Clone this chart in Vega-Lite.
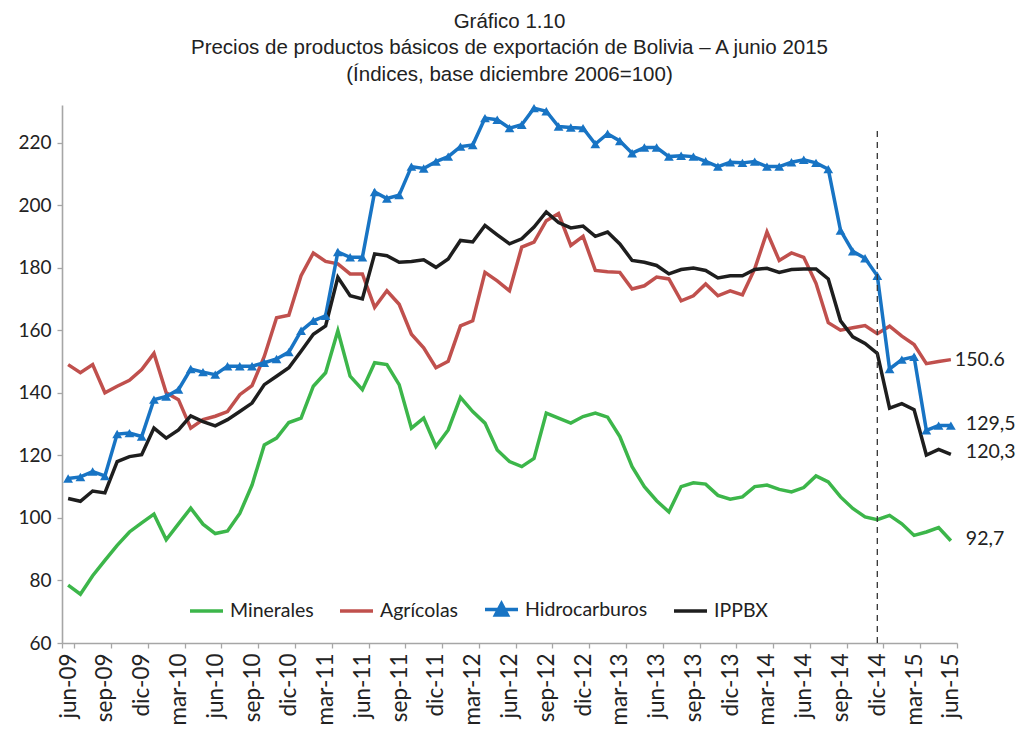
{
  "$schema": "https://vega.github.io/schema/vega-lite/v6.json",
  "width": 895,
  "height": 538,
  "autosize": "none",
  "padding": {"left": 62, "top": 105, "right": 62, "bottom": 91},
  "background": "white",
  "config": {"view": {"stroke": null}},
  "title": {
    "text": ["Gráfico 1.10", "Precios de productos básicos de exportación de Bolivia – A junio 2015", "(Índices, base diciembre 2006=100)"],
    "font": "Liberation Sans", "fontSize": 20.5, "fontWeight": "normal", "color": "#222222",
    "lineHeight": 26.5, "anchor": "middle", "frame": "group", "offset": 16
  },
  "data": {"values": [
    {"mes": "jun-09", "Minerales": 78.5, "Agrícolas": 149, "Hidrocarburos": 112.6, "IPPBX": 106.2},
    {"mes": "jul-09", "Minerales": 75.6, "Agrícolas": 146.4, "Hidrocarburos": 113.1, "IPPBX": 105.3},
    {"mes": "ago-09", "Minerales": 81.5, "Agrícolas": 149, "Hidrocarburos": 114.8, "IPPBX": 108.6},
    {"mes": "sep-09", "Minerales": 86.4, "Agrícolas": 140, "Hidrocarburos": 113.4, "IPPBX": 108},
    {"mes": "oct-09", "Minerales": 91.2, "Agrícolas": 142.1, "Hidrocarburos": 126.8, "IPPBX": 118},
    {"mes": "nov-09", "Minerales": 95.5, "Agrícolas": 144, "Hidrocarburos": 127.1, "IPPBX": 119.6},
    {"mes": "dic-09", "Minerales": 98.4, "Agrícolas": 147.4, "Hidrocarburos": 126, "IPPBX": 120.2},
    {"mes": "ene-10", "Minerales": 101.2, "Agrícolas": 152.6, "Hidrocarburos": 137.8, "IPPBX": 128.7},
    {"mes": "feb-10", "Minerales": 93, "Agrícolas": 140, "Hidrocarburos": 138.8, "IPPBX": 125.5},
    {"mes": "mar-10", "Minerales": 98.1, "Agrícolas": 137.8, "Hidrocarburos": 141, "IPPBX": 128.1},
    {"mes": "abr-10", "Minerales": 103.1, "Agrícolas": 128.7, "Hidrocarburos": 147.6, "IPPBX": 132.6},
    {"mes": "may-10", "Minerales": 98, "Agrícolas": 131.4, "Hidrocarburos": 146.6, "IPPBX": 130.8},
    {"mes": "jun-10", "Minerales": 95, "Agrícolas": 132.5, "Hidrocarburos": 145.8, "IPPBX": 129.4},
    {"mes": "jul-10", "Minerales": 95.8, "Agrícolas": 134, "Hidrocarburos": 148.5, "IPPBX": 131.4},
    {"mes": "ago-10", "Minerales": 101.4, "Agrícolas": 139.4, "Hidrocarburos": 148.5, "IPPBX": 134},
    {"mes": "sep-10", "Minerales": 110.5, "Agrícolas": 142.3, "Hidrocarburos": 148.5, "IPPBX": 136.7},
    {"mes": "oct-10", "Minerales": 123.3, "Agrícolas": 151.6, "Hidrocarburos": 149.6, "IPPBX": 142.6},
    {"mes": "nov-10", "Minerales": 125.5, "Agrícolas": 164, "Hidrocarburos": 150.8, "IPPBX": 145.3},
    {"mes": "dic-10", "Minerales": 130.5, "Agrícolas": 164.8, "Hidrocarburos": 153, "IPPBX": 148},
    {"mes": "ene-11", "Minerales": 131.9, "Agrícolas": 177.4, "Hidrocarburos": 159.8, "IPPBX": 153.3},
    {"mes": "feb-11", "Minerales": 142.1, "Agrícolas": 184.7, "Hidrocarburos": 163, "IPPBX": 158.7},
    {"mes": "mar-11", "Minerales": 146.4, "Agrícolas": 182, "Hidrocarburos": 164.6, "IPPBX": 161.4},
    {"mes": "abr-11", "Minerales": 159.8, "Agrícolas": 181.2, "Hidrocarburos": 185, "IPPBX": 176.9},
    {"mes": "may-11", "Minerales": 145.3, "Agrícolas": 178, "Hidrocarburos": 183.3, "IPPBX": 171},
    {"mes": "jun-11", "Minerales": 141, "Agrícolas": 178, "Hidrocarburos": 183.3, "IPPBX": 170},
    {"mes": "jul-11", "Minerales": 149.6, "Agrícolas": 167.3, "Hidrocarburos": 204.2, "IPPBX": 184.4},
    {"mes": "ago-11", "Minerales": 149, "Agrícolas": 172.6, "Hidrocarburos": 202.1, "IPPBX": 183.8},
    {"mes": "sep-11", "Minerales": 142.6, "Agrícolas": 168.3, "Hidrocarburos": 203.2, "IPPBX": 181.7},
    {"mes": "oct-11", "Minerales": 128.7, "Agrícolas": 158.7, "Hidrocarburos": 212.3, "IPPBX": 182},
    {"mes": "nov-11", "Minerales": 131.9, "Agrícolas": 154.4, "Hidrocarburos": 211.7, "IPPBX": 182.5},
    {"mes": "dic-11", "Minerales": 122.8, "Agrícolas": 148, "Hidrocarburos": 213.9, "IPPBX": 180.1},
    {"mes": "ene-12", "Minerales": 128.1, "Agrícolas": 150.1, "Hidrocarburos": 215.5, "IPPBX": 182.8},
    {"mes": "feb-12", "Minerales": 138.5, "Agrícolas": 161.4, "Hidrocarburos": 218.7, "IPPBX": 188.7},
    {"mes": "mar-12", "Minerales": 134, "Agrícolas": 163, "Hidrocarburos": 219.2, "IPPBX": 188.2},
    {"mes": "abr-12", "Minerales": 130.3, "Agrícolas": 178.5, "Hidrocarburos": 227.8, "IPPBX": 193.5},
    {"mes": "may-12", "Minerales": 121.7, "Agrícolas": 175.8, "Hidrocarburos": 227.3, "IPPBX": 190.5},
    {"mes": "jun-12", "Minerales": 118, "Agrícolas": 172.6, "Hidrocarburos": 224.6, "IPPBX": 187.6},
    {"mes": "jul-12", "Minerales": 116.4, "Agrícolas": 186.6, "Hidrocarburos": 225.7, "IPPBX": 189.2},
    {"mes": "ago-12", "Minerales": 119, "Agrícolas": 188.2, "Hidrocarburos": 231, "IPPBX": 193},
    {"mes": "sep-12", "Minerales": 133.5, "Agrícolas": 195, "Hidrocarburos": 230, "IPPBX": 197.8},
    {"mes": "oct-12", "Minerales": 131.9, "Agrícolas": 197.3, "Hidrocarburos": 225.1, "IPPBX": 194.4},
    {"mes": "nov-12", "Minerales": 130.3, "Agrícolas": 187.1, "Hidrocarburos": 224.8, "IPPBX": 192.7},
    {"mes": "dic-12", "Minerales": 132.4, "Agrícolas": 190, "Hidrocarburos": 224.6, "IPPBX": 193.3},
    {"mes": "ene-13", "Minerales": 133.5, "Agrícolas": 179.1, "Hidrocarburos": 219.5, "IPPBX": 190},
    {"mes": "feb-13", "Minerales": 132.2, "Agrícolas": 178.7, "Hidrocarburos": 222.8, "IPPBX": 191.4},
    {"mes": "mar-13", "Minerales": 126, "Agrícolas": 178.5, "Hidrocarburos": 220.5, "IPPBX": 187.6},
    {"mes": "abr-13", "Minerales": 116.4, "Agrícolas": 173.2, "Hidrocarburos": 216.6, "IPPBX": 182.3},
    {"mes": "may-13", "Minerales": 110, "Agrícolas": 174.2, "Hidrocarburos": 218.4, "IPPBX": 181.7},
    {"mes": "jun-13", "Minerales": 105.5, "Agrícolas": 177, "Hidrocarburos": 218.4, "IPPBX": 180.7},
    {"mes": "jul-13", "Minerales": 101.9, "Agrícolas": 176.4, "Hidrocarburos": 215.5, "IPPBX": 178},
    {"mes": "ago-13", "Minerales": 110, "Agrícolas": 169.4, "Hidrocarburos": 215.8, "IPPBX": 179.4},
    {"mes": "sep-13", "Minerales": 111.2, "Agrícolas": 171, "Hidrocarburos": 215.5, "IPPBX": 179.9},
    {"mes": "oct-13", "Minerales": 110.8, "Agrícolas": 174.8, "Hidrocarburos": 214, "IPPBX": 179.1},
    {"mes": "nov-13", "Minerales": 107.2, "Agrícolas": 171, "Hidrocarburos": 212.3, "IPPBX": 176.7},
    {"mes": "dic-13", "Minerales": 106, "Agrícolas": 172.6, "Hidrocarburos": 213.7, "IPPBX": 177.4},
    {"mes": "ene-14", "Minerales": 106.7, "Agrícolas": 171.3, "Hidrocarburos": 213.5, "IPPBX": 177.4},
    {"mes": "feb-14", "Minerales": 110, "Agrícolas": 179.6, "Hidrocarburos": 213.9, "IPPBX": 179.4},
    {"mes": "mar-14", "Minerales": 110.5, "Agrícolas": 191.4, "Hidrocarburos": 212.3, "IPPBX": 179.8},
    {"mes": "abr-14", "Minerales": 109.1, "Agrícolas": 182.3, "Hidrocarburos": 212.3, "IPPBX": 178.5},
    {"mes": "may-14", "Minerales": 108.3, "Agrícolas": 184.7, "Hidrocarburos": 213.7, "IPPBX": 179.4},
    {"mes": "jun-14", "Minerales": 109.7, "Agrícolas": 183.3, "Hidrocarburos": 214.5, "IPPBX": 179.6},
    {"mes": "jul-14", "Minerales": 113.4, "Agrícolas": 175, "Hidrocarburos": 213.5, "IPPBX": 179.6},
    {"mes": "ago-14", "Minerales": 111.5, "Agrícolas": 162.4, "Hidrocarburos": 211.5, "IPPBX": 176.4},
    {"mes": "sep-14", "Minerales": 106.7, "Agrícolas": 160, "Hidrocarburos": 191.9, "IPPBX": 163},
    {"mes": "oct-14", "Minerales": 103, "Agrícolas": 160.8, "Hidrocarburos": 185.2, "IPPBX": 157.9},
    {"mes": "nov-14", "Minerales": 100.3, "Agrícolas": 161.5, "Hidrocarburos": 183, "IPPBX": 155.8},
    {"mes": "dic-14", "Minerales": 99.4, "Agrícolas": 158.9, "Hidrocarburos": 177.4, "IPPBX": 152.6},
    {"mes": "ene-15", "Minerales": 100.8, "Agrícolas": 161.3, "Hidrocarburos": 147.6, "IPPBX": 135.1},
    {"mes": "feb-15", "Minerales": 98.1, "Agrícolas": 158.1, "Hidrocarburos": 150.6, "IPPBX": 136.5},
    {"mes": "mar-15", "Minerales": 94.4, "Agrícolas": 155.4, "Hidrocarburos": 151.5, "IPPBX": 134.6},
    {"mes": "abr-15", "Minerales": 95.5, "Agrícolas": 149.3, "Hidrocarburos": 128, "IPPBX": 120.1},
    {"mes": "may-15", "Minerales": 96.9, "Agrícolas": 150, "Hidrocarburos": 129.5, "IPPBX": 121.9},
    {"mes": "jun-15", "Minerales": 92.7, "Agrícolas": 150.6, "Hidrocarburos": 129.5, "IPPBX": 120.3}
  ]},
  "encoding": {
    "x": {
      "field": "mes", "type": "ordinal", "sort": null,
      "scale": {"type": "band", "paddingInner": 0, "paddingOuter": 0},
      "axis": {
        "values": ["jun-09", "sep-09", "dic-09", "mar-10", "jun-10", "sep-10", "dic-10", "mar-11", "jun-11", "sep-11", "dic-11", "mar-12", "jun-12", "sep-12", "dic-12", "mar-13", "jun-13", "sep-13", "dic-13", "mar-14", "jun-14", "sep-14", "dic-14", "mar-15", "jun-15"],
        "tickBand": "extent", "labelAngle": -90, "labelFont": "Lato", "labelFontSize": 22.5,
        "labelColor": "#222222", "labelPadding": 5, "tickSize": 5, "tickColor": "#a6a6a6", "tickWidth": 1.3,
        "domainColor": "#a6a6a6", "domainWidth": 1.6, "title": null, "grid": false
      }
    }
  },
  "layer": [
    {
      "transform": [{"fold": ["Minerales", "Agrícolas", "Hidrocarburos", "IPPBX"], "as": ["serie", "valor"]}],
      "mark": {"type": "line", "strokeWidth": 3.5, "interpolate": "linear"},
      "encoding": {
        "y": {
          "field": "valor", "type": "quantitative",
          "scale": {"domain": [60, 232], "nice": false, "zero": false},
          "axis": {
            "values": [60, 80, 100, 120, 140, 160, 180, 200, 220], "title": null, "grid": false,
            "labelFont": "Lato", "labelFontSize": 19, "labelColor": "#222222", "labelPadding": 6,
            "tickSize": 5, "tickColor": "#a6a6a6", "tickWidth": 1.3, "domainColor": "#a6a6a6", "domainWidth": 1.6
          }
        },
        "color": {
          "field": "serie", "type": "nominal",
          "scale": {"domain": ["Minerales", "Agrícolas", "Hidrocarburos", "IPPBX"], "range": ["#3cb64a", "#c0504d", "#1874c4", "#1e1e1e"]},
          "legend": {
            "orient": "none", "legendX": 126, "legendY": 486, "direction": "horizontal", "title": null,
            "symbolType": "stroke", "symbolSize": 1089, "symbolStrokeWidth": 3.5,
            "labelFont": "Lato", "labelFontSize": 19.5, "labelColor": "#222222", "labelOffset": 5,
            "columnPadding": 19, "padding": 0,
            "encode": {
              "symbols": {
                "update": {
                  "shape": {"signal": "datum.value === 'Hidrocarburos' ? 'M-1,0H1M-0.36,0.32L0,-0.36L0.36,0.32Z' : 'stroke'"},
                  "fill": {"signal": "datum.value === 'Hidrocarburos' ? '#1874c4' : 'transparent'"}
                }
              }
            }
          }
        }
      }
    },
    {
      "transform": [{"fold": ["Hidrocarburos"], "as": ["serie", "valor"]}],
      "mark": {"type": "point", "shape": "triangle-up", "filled": true, "size": 95, "opacity": 1, "color": "#1874c4"},
      "encoding": {"y": {"field": "valor", "type": "quantitative"}}
    },
    {
      "transform": [{"filter": "datum.mes === 'dic-14'"}],
      "mark": {"type": "rule", "strokeDash": [6, 5], "color": "#333333", "strokeWidth": 1.3},
      "encoding": {"y": {"datum": 60, "type": "quantitative"}, "y2": {"datum": 224}}
    },
    {
      "transform": [
        {"filter": "datum.mes === 'jun-15'"},
        {"fold": ["Agrícolas"], "as": ["serie", "valor"]},
        {"calculate": "format(datum.valor, '.1f')", "as": "etiqueta"}
      ],
      "mark": {"type": "text", "align": "left", "baseline": "middle", "dx": 4, "font": "Lato", "fontSize": 19.5, "color": "#222222"},
      "encoding": {"y": {"field": "valor", "type": "quantitative"}, "text": {"field": "etiqueta"}}
    },
    {
      "transform": [
        {"filter": "datum.mes === 'jun-15'"},
        {"fold": ["Minerales", "Hidrocarburos", "IPPBX"], "as": ["serie", "valor"]},
        {"calculate": "replace(format(datum.valor, '.1f'), '.', ',')", "as": "etiqueta"}
      ],
      "mark": {"type": "text", "align": "left", "baseline": "middle", "dx": 15, "dy": -2, "font": "Lato", "fontSize": 19.5, "color": "#222222"},
      "encoding": {"y": {"field": "valor", "type": "quantitative"}, "text": {"field": "etiqueta"}}
    }
  ]
}
